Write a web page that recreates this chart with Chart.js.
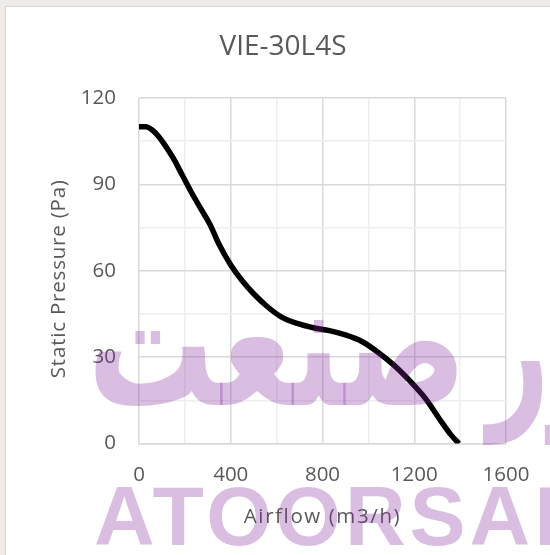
<!DOCTYPE html>
<html>
<head>
<meta charset="utf-8">
<script src="https://cdn.jsdelivr.net/npm/chart.js@4.4.1/dist/chart.umd.min.js"></script>
<style>
	html, body { margin: 0; padding: 0; background: #eeebe8; }
	#frame {
		position: absolute; left: 5px; top: 6px; width: 545px; height: 549px;
		background: #ffffff; border-left: 1px solid #d8d5d2; border-top: 1px solid #d8d5d2;
	}
	#box { position: absolute; left: 0; top: 0; width: 544px; height: 548px; }
</style>
</head>
<body>
<div id="frame">
	<div id="box"><canvas id="fanCurve"></canvas></div>
</div>
<script type="text/javascript">
	// values
	var airflow  = [0, 30, 70, 110, 150, 190, 230, 270, 310, 350, 400, 450, 500, 560, 620, 690, 760, 830, 900, 970, 1040, 1110, 1180, 1250, 1310, 1360, 1395];
	var pressure = [110, 110, 108, 104, 99, 93, 87, 81.5, 76, 69, 62, 56.5, 52, 47.5, 44, 41.7, 40.2, 39.2, 37.7, 35.5, 31.8, 27.3, 21.8, 15.5, 8.5, 3, 0];
	var xLabelStep = 400;
	var yLabelStep = 30;

	var chartTitle = 'VIE-30L4S';
	var xTitle = 'Airflow (m3/h)';
	var yTitle = 'Static Pressure (Pa)';

	var textColor = '#595959';
	var fontName = "'Open Sans', sans-serif";

	var points = [];
	for (var i = 0; i < airflow.length; i++) {
		points.push({ x: airflow[i], y: pressure[i] });
	}

	// title and axis titles, drawn with a bit of letter spacing like the picture
	var titles = {
		id: 'titles',
		afterDraw: function(chart) {
			var ctx = chart.ctx;
			var area = chart.chartArea;
			ctx.save();
			ctx.fillStyle = textColor;
			ctx.textAlign = 'center';
			ctx.textBaseline = 'middle';
			ctx.font = "28px " + fontName;
			ctx.fillText(chartTitle, 277, 40);

			ctx.textBaseline = 'alphabetic';
			ctx.font = "20.5px " + fontName;
			ctx.letterSpacing = '1.6px';
			ctx.fillText(xTitle, (area.left + area.right) / 2, 516);

			ctx.letterSpacing = '0.8px';
			ctx.translate(59, (area.top + area.bottom) / 2 + 8);
			ctx.rotate(-Math.PI / 2);
			ctx.fillText(yTitle, 0, 0);
			ctx.restore();
		}
	};

	// pink watermark drawn on top, like the picture
	var watermark = {
		id: 'watermark',
		afterDraw: function(chart) {
			var ctx = chart.ctx;
			ctx.save();
			ctx.fillStyle = 'rgba(130, 40, 160, 0.3)';
			ctx.textBaseline = 'alphabetic';
			ctx.textAlign = 'left';

			ctx.font = "bold 100px 'DejaVu Sans'";
			var word = 'صنعت';
			var m = ctx.measureText(word);
			var gw = m.actualBoundingBoxLeft + m.actualBoundingBoxRight;
			var gh = m.actualBoundingBoxAscent + m.actualBoundingBoxDescent;
			var sx = 362 / gw;
			var sy = 87 / gh;
			ctx.save();
			ctx.translate(89, 313);
			ctx.scale(sx, sy);
			ctx.fillText(word, m.actualBoundingBoxLeft, m.actualBoundingBoxAscent);
			ctx.restore();

			var word2 = 'آتور';
			var m2 = ctx.measureText(word2);
			ctx.save();
			ctx.translate(476, 313 + m.actualBoundingBoxAscent * sy);
			ctx.scale(sx * 0.85, sy * 0.92);
			ctx.fillText(word2, m2.actualBoundingBoxLeft, 0);
			ctx.restore();

			ctx.font = "bold 84px 'Liberation Sans'";
			ctx.letterSpacing = '4px';
			ctx.fillText('ATOORSAN', 88, 538);
			ctx.restore();
		}
	};

	var chart = new Chart(document.getElementById('fanCurve').getContext('2d'), {
		type: 'line',
		data: {
			datasets: [{
				data: points,
				borderColor: '#000000',
				borderWidth: 5.5,
				pointRadius: 0,
				cubicInterpolationMode: 'monotone',
				fill: false
			}]
		},
		options: {
			responsive: true,
			maintainAspectRatio: false,
			animation: false,
			layout: { padding: { left: 0, right: 44, top: 91, bottom: 0 } },
			plugins: {
				legend: { display: false },
				tooltip: { enabled: false },
				title: { display: false }
			},
			scales: {
				x: {
					type: 'linear',
					min: 0, max: 1600,
					ticks: {
						stepSize: 200,
						color: textColor,
						font: { family: fontName, size: 20.5 },
						padding: 19,
						maxRotation: 0,
						autoSkip: false,
						callback: function(v) { return v % xLabelStep === 0 ? v : ''; }
					},
					grid: {
						drawTicks: false,
						color: function(c) { return c.tick && c.tick.value % xLabelStep === 0 ? '#d9d9d9' : '#eeeeee'; },
						lineWidth: 1.5
					},
					border: { color: '#d9d9d9', width: 1.5 },
					afterFit: function(scale) { scale.height = 111.5; }
				},
				y: {
					min: 0, max: 120,
					ticks: {
						stepSize: 15,
						color: textColor,
						font: { family: fontName, size: 20.5 },
						padding: 23,
						autoSkip: false,
						callback: function(v) { return v % yLabelStep === 0 ? v : ''; }
					},
					grid: {
						drawTicks: false,
						color: function(c) { return c.tick && c.tick.value % yLabelStep === 0 ? '#d9d9d9' : '#eeeeee'; },
						lineWidth: 1.5
					},
					border: { display: false },
					afterFit: function(scale) { scale.width = 133; }
				}
			}
		},
		plugins: [titles, watermark]
	});
</script>
</body>
</html>
